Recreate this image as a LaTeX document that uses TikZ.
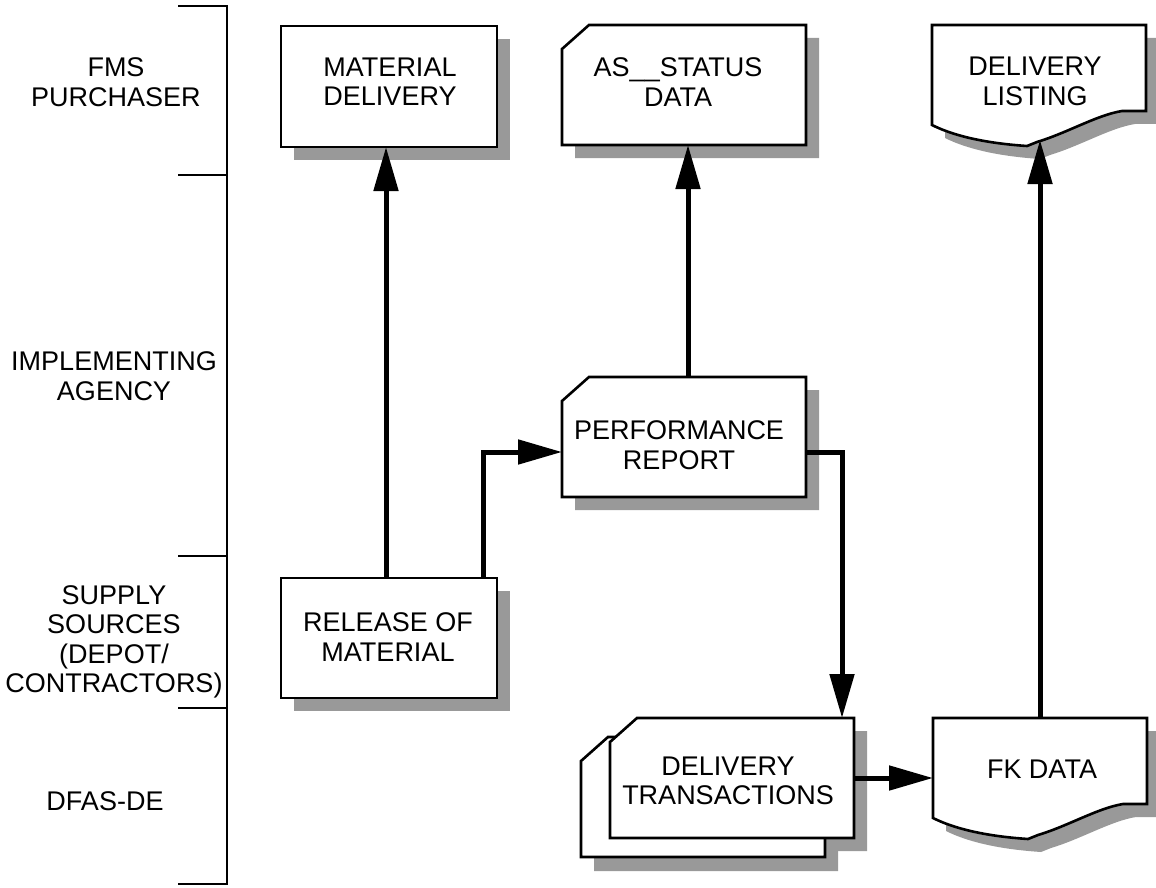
\documentclass[tikz,border=0pt]{standalone}
\usepackage{fontspec}
\setmainfont{Liberation Sans}
\usetikzlibrary{arrows.meta}
\definecolor{shadowgray}{HTML}{999999}
\newcommand\rectat[5]{\path[#5] (#1,#2) rectangle ++(#3,#4);}
\newcommand\cardat[3]{\begin{scope}[shift={(#1,#2)}]\path[#3] (0,24) -- (27,0) -- (244,0) -- (244,120) -- (0,120) -- cycle;\end{scope}}
\newcommand\docat[3]{\begin{scope}[shift={(#1,#2)}]\path[#3] (0,0) -- (214,0) -- (214,86) -- (190,86) .. controls (165,90) and (135,108) .. (105,117) -- (95,121) .. controls (50,118) and (20,110) .. (0,100) -- cycle;\end{scope}}
\begin{document}
\begin{tikzpicture}[x=1pt,y=-1pt,
  boxn/.style={draw=none,inner sep=0pt,outer sep=0pt,rectangle},
  txt/.style={font=\fontsize{27}{29.5}\selectfont, align=center, inner sep=0pt},
  outl/.style={draw=black,line width=2.6pt,fill=white,line join=miter},
  shd/.style={fill=shadowgray,draw=none},
  arr/.style={line width=5pt,line join=miter,-{Triangle[length=44pt,width=24pt]}},
  brk/.style={line width=2.6pt,line join=miter}]
\useasboundingbox (0,0) rectangle (1156,888);

% invisible box nodes (for connector anchors)
\node[boxn,minimum width=216pt,minimum height=121pt] (md) at (389,86.5) {};
\node[boxn,minimum width=244pt,minimum height=120pt] (as) at (684,85) {};
\node[boxn,minimum width=244pt,minimum height=120pt] (pr) at (684,437) {};
\node[boxn,minimum width=216pt,minimum height=120pt] (rel) at (389,638) {};
\node[boxn,minimum width=244pt,minimum height=120pt] (dt) at (732,778) {};
\node[boxn,minimum width=214pt,minimum height=120pt] (dl) at (1040,85) {};
\node[boxn,minimum width=214pt,minimum height=120pt] (fk) at (1040,778) {};

% bracket
\draw[brk] (178,6) -- (227,6) -- (227,884) -- (178,884);
\draw[brk] (178,175) -- (227,175);
\draw[brk] (178,556) -- (227,556);
\draw[brk] (178,708) -- (227,708);

% shapes
\rectat{294}{39}{216}{121}{shd}
\rectat{281}{26}{216}{121}{outl}
\cardat{575}{38}{shd}
\cardat{562}{25}{outl}
\cardat{575}{390}{shd}
\cardat{562}{377}{outl}
\rectat{294}{591}{216}{120}{shd}
\rectat{281}{578}{216}{120}{outl}
\cardat{594}{751}{shd}
\cardat{623}{731}{shd}
\cardat{581}{737}{outl}
\cardat{610}{718}{outl}
\docat{945}{38}{shd}
\docat{932}{25}{outl}
\docat{946}{731}{shd}
\docat{933}{718}{outl}

% texts
\node[txt] (mdT) at (390,81.5) {MATERIAL\\DELIVERY};
\node[txt] (asT) at (678,82) {AS\_\_STATUS\\DATA};
\node[txt] (prT) at (679,445) {PERFORMANCE\\REPORT};
\node[txt] (relT) at (388,637) {RELEASE OF\\MATERIAL};
\node[txt] (dtT) at (728,781) {DELIVERY\\TRANSACTIONS};
\node[txt] (dlT) at (1035,81.5) {DELIVERY\\LISTING};
\node[txt] (fkT) at (1042,769) {FK DATA};

\node[txt] (fms) at (116,82) {FMS\\PURCHASER};
\node[txt] (ia) at (114,376) {IMPLEMENTING\\AGENCY};
\node[txt] (ss) at (114,642) {SUPPLY\\SOURCES\\(DEPOT/\\CONTRACTORS)};
\node[txt] (dfas) at (105,801) {DFAS-DE};

% connectors
\draw[arr] ([xshift=-3pt]rel.north) -- ([xshift=-3pt]md.south);
\draw[arr] ([xshift=94pt]rel.north) |- ([yshift=-15pt]pr.west);
\draw[arr] ([xshift=4pt]pr.north) -- ([xshift=4pt]as.south);
\draw[arr] ([yshift=-15pt]pr.east) -| ([xshift=110pt]dt.north);
\draw[arr] (dt.east) -- (fk.west);
\draw[arr] (fk.north) -- ([yshift=5pt]dl.south);
\end{tikzpicture}
\end{document}
